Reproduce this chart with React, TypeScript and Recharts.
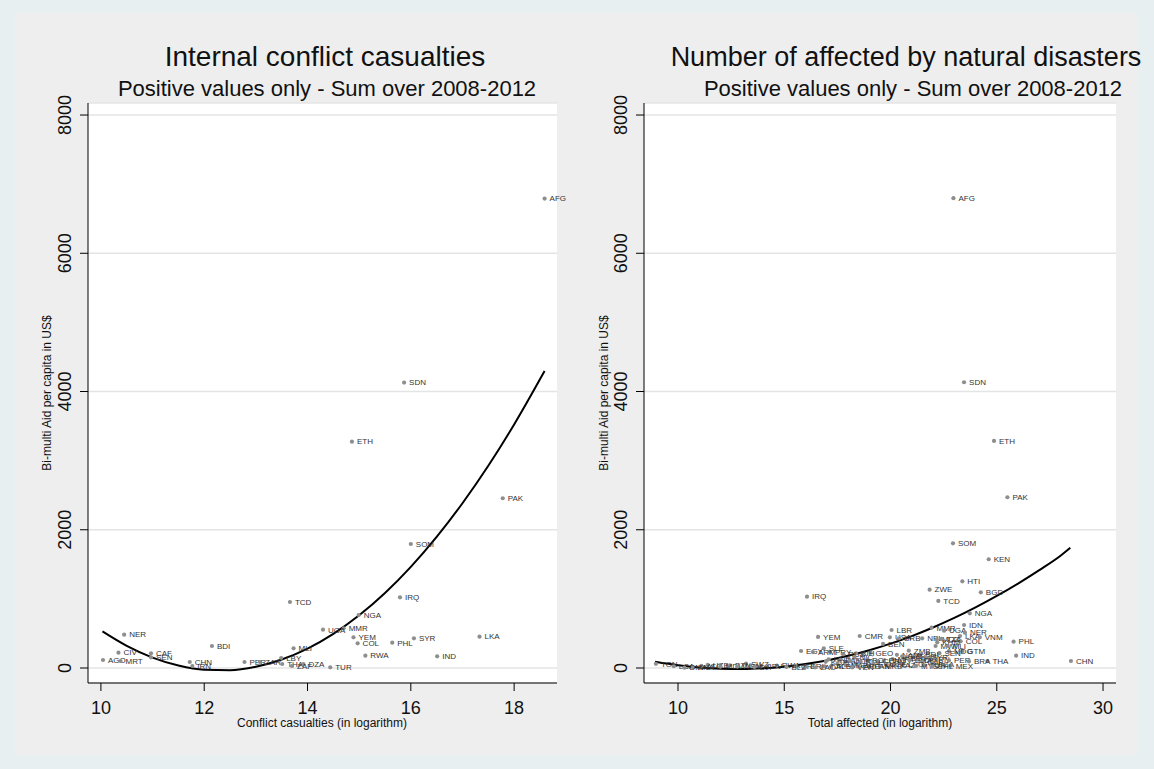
import React from "react";
import { ComposedChart, Scatter, Line, XAxis, YAxis, CartesianGrid } from "recharts";

const FONT = "'Liberation Sans', Arial, Helvetica, sans-serif";

// left panel: internal conflict casualties (log) vs aid per capita
const conflictCodes = [
  "AFG", "SDN", "ETH", "PAK", "SOM", "IRQ", "TCD", "NGA", "MMR", "UGA", "NER", "LKA",
  "YEM", "SYR", "PHL", "COL", "BDI", "MLI", "CIV", "CAF", "RWA", "IND", "SEN", "LBY",
  "AGO", "MRT", "CHN", "PER", "ZAR", "THA", "DZA", "IRN", "ZAF", "TUR",
];
const conflictLogCasualties = [
  18.59, 15.87, 14.86, 17.78, 16.0, 15.79, 13.66, 14.99, 14.7, 14.3, 10.45, 17.33,
  14.89, 16.06, 15.64, 14.97, 12.15, 13.73, 10.34, 10.97, 15.12, 16.51, 10.97, 13.49,
  10.04, 10.38, 11.72, 12.78, 13.08, 13.51, 13.92, 11.77, 13.7, 14.44,
];
const conflictAid = [
  6792, 4129, 3275, 2456, 1794, 1023, 955, 767, 574, 554, 482, 453,
  444, 430, 366, 357, 318, 285, 222, 212, 178, 169, 154, 145,
  116, 101, 87, 87, 87, 58, 58, 29, 29, 10,
];
const conflictFitX = [10.03, 10.5, 11, 11.5, 12, 12.5, 13, 13.5, 14, 14.5, 15, 15.5, 16, 16.5, 17, 17.5, 18, 18.59];
const conflictFitY = [529, 320, 150, 35, -25, -31, 19, 123, 281, 495, 763, 1086, 1464, 1897, 2384, 2926, 3523, 4297];
const conflictTicks = [10, 12, 14, 16, 18];

// right panel: number affected by natural disasters (log) vs aid per capita
const disasterCodes = [
  "AFG", "SDN", "ETH", "PAK", "SOM", "KEN", "HTI", "ZWE", "BGD", "IRQ", "TCD", "NGA",
  "IDN", "MMR", "UGA", "LBR", "NER", "LKA", "CMR", "YEM", "VNM", "USA", "SRB", "NPL",
  "MOZ", "TZA", "COL", "PHL", "KHM", "BEN", "MWI", "MLI", "SLE", "ZMB", "EGY", "GTM",
  "MDG", "PRY", "ARM", "GEO", "BIH", "SEN", "RUS", "BDI", "IND", "NAM", "GIN", "TGO",
  "NIC", "SYR", "BFA", "MRT", "IRN", "HND", "BOL", "CIV", "ZAF", "PER", "GHA", "PNG",
  "THA", "CHN", "CUB", "JOR", "BRA", "KGZ", "SLV", "CAF", "TUN", "ECU", "LSO", "DZA",
  "SWZ", "TON", "UZB", "AZE", "MAR", "KAZ", "TUR", "BTN", "RWA", "MEX", "ATG", "CRI",
  "PAN", "MYS", "LCA", "CPV", "TJK", "MDV", "WSM", "ERI", "ALB", "MKD", "ARG", "CHL",
  "KNA", "DJI", "BLZ", "VEN", "DMA", "LAO",
];
const disasterLogAffected = [
  22.96, 23.46, 24.87, 25.5, 22.94, 24.62, 23.38, 21.84, 24.25, 16.07, 22.25, 23.73,
  23.46, 21.93, 22.52, 20.05, 23.5, 23.27, 18.55, 16.59, 24.2, 19.97, 20.4, 21.49,
  22.17, 22.4, 23.3, 25.79, 22.2, 19.65, 22.12, 22.69, 16.86, 20.86, 15.79, 23.38,
  22.75, 17.15, 16.35, 19.06, 18.38, 22.3, 17.77, 21.4, 25.91, 20.3, 20.55, 21.1,
  18.3, 21.7, 20.7, 20.1, 21.9, 17.09, 18.9, 21.3, 17.64, 22.75, 20.9, 19.68,
  24.56, 28.49, 19.4, 18.1, 23.69, 16.95, 18.6, 21.5, 17.5, 19.2, 20.6, 22.0,
  13.2, 8.96, 11.4, 19.8, 17.9, 20.2, 21.6, 12.45, 14.65, 22.83, 11.1, 15.55,
  19.0, 21.2, 9.8, 13.9, 16.9, 12.0, 12.8, 16.0, 17.2, 19.5, 18.5, 21.96,
  10.7, 13.6, 15.1, 18.2, 10.3, 16.45,
];
const disasterAid = [
  6797, 4134, 3285, 2470, 1804, 1573, 1254, 1133, 1095, 1032, 970, 791,
  622, 583, 540, 550, 511, 463, 463, 449, 444, 444, 430, 430,
  415, 420, 386, 381, 372, 350, 318, 318, 285, 250, 246, 245,
  245, 232, 230, 221, 212, 215, 198, 195, 178, 190, 170, 165,
  150, 150, 140, 130, 130, 126, 120, 120, 116, 110, 110, 106,
  100, 101, 100, 100, 95, 90, 90, 90, 60, 60, 60, 60,
  62, 60, 45, 50, 40, 40, 40, 38, 35, 33, 30, 30,
  30, 30, 25, 25, 25, 20, 20, 20, 20, 20, 20, 19,
  12, 15, 15, 8, 5, 10,
];
const disasterFitX = [8.92, 10, 11, 12, 13, 14, 15, 16, 17, 18, 19, 20, 21, 22, 23, 24, 25, 26, 27, 28, 28.46];
const disasterFitY = [91, 41, 8, -10, -15, -5, 19, 58, 110, 177, 258, 353, 462, 586, 724, 876, 1042, 1222, 1417, 1625, 1740];
const disasterTicks = [10, 15, 20, 25, 30];

const aidTicks = [0, 2000, 4000, 6000, 8000];

const conflictPoints = conflictCodes.map((code, i) => ({ code, x: conflictLogCasualties[i], y: conflictAid[i] }));
const conflictFit = conflictFitX.map((x, i) => ({ x, y: conflictFitY[i] }));
const disasterPoints = disasterCodes.map((code, i) => ({ code, x: disasterLogAffected[i], y: disasterAid[i] }));
const disasterFit = disasterFitX.map((x, i) => ({ x, y: disasterFitY[i] }));

const CountryDot = (props: any) => {
  const { cx, cy, payload } = props;
  if (cx == null || cy == null) return null;
  return (
    <g>
      <circle cx={cx} cy={cy} r={2.1} fill="#8e8e8e" />
      <text x={cx + 5} y={cy + 2.8} fontSize={8} fill="#333333" fontFamily={FONT}>
        {payload.code}
      </text>
    </g>
  );
};

const AidTick = (p: any) => (
  <text
    transform={`translate(${p.x - 7},${p.y}) rotate(-90)`}
    textAnchor="middle"
    fontSize={18}
    fontFamily={FONT}
    fill="#111"
  >
    {p.payload.value}
  </text>
);

const LogTick = (p: any) => (
  <text x={p.x} y={p.y + 21} textAnchor="middle" fontSize={18} fontFamily={FONT} fill="#111">
    {p.payload.value}
  </text>
);

function Panel({ points, fit, xDomain, xTicks, width, margin }: any) {
  return (
    <ComposedChart width={width} height={769} margin={margin} style={{ overflow: "visible" }}>
      <CartesianGrid vertical={false} fill="#ffffff" stroke="#e4e4e4" strokeWidth={1.5} />
      <XAxis
        type="number"
        dataKey="x"
        domain={xDomain}
        ticks={xTicks}
        height={30}
        tickSize={8}
        axisLine={{ stroke: "#000" }}
        tickLine={{ stroke: "#000" }}
        tick={<LogTick />}
      />
      <YAxis
        type="number"
        dataKey="y"
        domain={[-217, 8174]}
        ticks={aidTicks}
        width={60}
        tickSize={8}
        axisLine={{ stroke: "#000" }}
        tickLine={{ stroke: "#000" }}
        tick={<AidTick />}
      />
      <Scatter data={points} dataKey="y" shape={<CountryDot />} isAnimationActive={false} />
      <Line
        data={fit}
        dataKey="y"
        type="monotone"
        dot={false}
        stroke="#000"
        strokeWidth={2}
        isAnimationActive={false}
      />
    </ComposedChart>
  );
}

export default function App() {
  return (
    <div style={{ position: "fixed", left: 0, top: 0, width: 1154, height: 769, background: "#e8eff1", overflow: "hidden" }}>
      <div style={{ position: "absolute", left: 15, top: 13, width: 1122, height: 742, background: "#eeeeee" }} />
      <div style={{ position: "absolute", left: 0, top: 0 }}>
        <Panel
          points={conflictPoints}
          fit={conflictFit}
          xDomain={[9.75, 18.83]}
          xTicks={conflictTicks}
          width={580}
          margin={{ top: 103, right: 23, bottom: 56, left: 28 }}
        />
      </div>
      <div style={{ position: "absolute", left: 580, top: 0 }}>
        <Panel
          points={disasterPoints}
          fit={disasterFit}
          xDomain={[8.4, 30.61]}
          xTicks={disasterTicks}
          width={574}
          margin={{ top: 103, right: 38, bottom: 56, left: 4 }}
        />
      </div>
      <svg width={1154} height={769} style={{ position: "absolute", left: 0, top: 0, pointerEvents: "none" }}>
        <g fontFamily={FONT} fill="#111" textAnchor="middle">
          <text x={325} y={66} fontSize={28}>Internal conflict casualties</text>
          <text x={327} y={96} fontSize={22}>Positive values only - Sum over 2008-2012</text>
          <text x={906} y={66} fontSize={27}>Number of affected by natural disasters</text>
          <text x={913} y={96} fontSize={22}>Positive values only - Sum over 2008-2012</text>
          <text x={322} y={727} fontSize={12}>Conflict casualties (in logarithm)</text>
          <text x={880} y={727} fontSize={12}>Total affected (in logarithm)</text>
          <text transform="translate(51,393) rotate(-90)" fontSize={12}>Bi-multi Aid per capita in US$</text>
          <text transform="translate(608,393) rotate(-90)" fontSize={12}>Bi-multi Aid per capita in US$</text>
        </g>
      </svg>
    </div>
  );
}
